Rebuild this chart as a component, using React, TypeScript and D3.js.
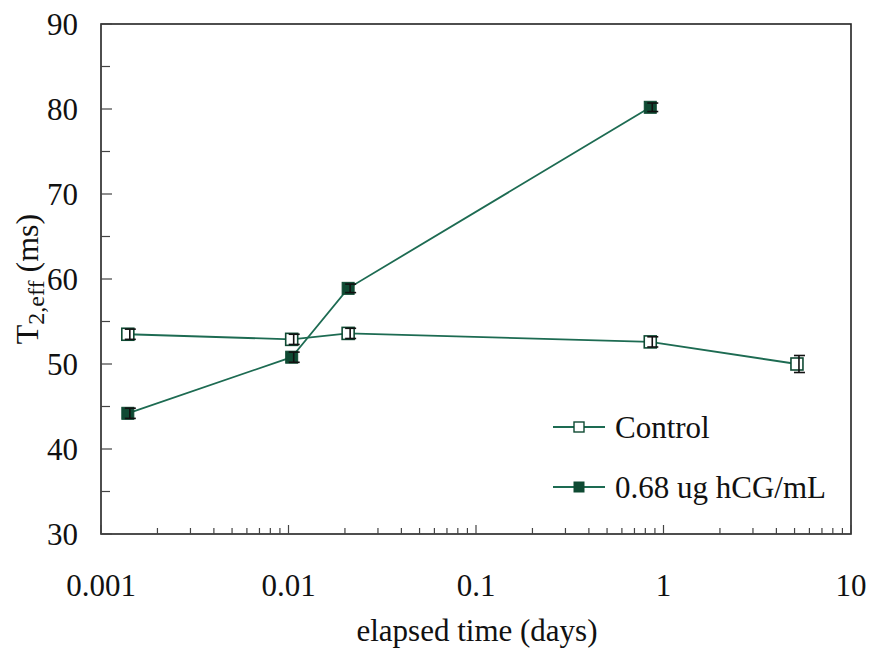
import React from "react";
import * as d3 from "d3";

const controlX = [0.00139, 0.0104, 0.0208, 0.85, 5.15];
const controlY = [53.5, 52.9, 53.6, 52.6, 50.0];
const controlErr = [0.6, 0.6, 0.6, 0.6, 1.0];

const treatedX = [0.00139, 0.0104, 0.0208, 0.85];
const treatedY = [44.2, 50.8, 58.9, 80.2];
const treatedErr = [0.6, 0.6, 0.5, 0.5];

const xTicks = [0.001, 0.01, 0.1, 1, 10];
const xTickLabels = ["0.001", "0.01", "0.1", "1", "10"];
const yTicks = [30, 40, 50, 60, 70, 80, 90];
const seriesNames = ["Control", "0.68 ug hCG/mL"];

const W = 870, H = 650;
const L = 101, R = 851, T = 24, B = 534;
const LINE = "#1d6b52";
const DARK = "#0f4a33";
const FONT = "'Liberation Serif', 'Times New Roman', serif";

export default function App() {
  const x = d3.scaleLog().domain([0.001, 10]).range([L, R]);
  const y = d3.scaleLinear().domain([30, 90]).range([B, T]);

  const minorX: number[] = [];
  for (let e = -3; e < 1; e++) {
    for (let k = 2; k <= 9; k++) minorX.push(k * Math.pow(10, e));
  }
  const minorY = d3.range(35, 90, 10);

  const line = d3.line<[number, number]>().x(d => x(d[0])).y(d => y(d[1]));
  const ctrl = controlX.map((v, i) => [v, controlY[i]] as [number, number]);
  const trt = treatedX.map((v, i) => [v, treatedY[i]] as [number, number]);
  const s = 12;

  const errBar = (xv: number, yv: number, e: number, key: string) => {
    const cx = x(xv) + 2;
    const y1 = y(yv + e), y2 = y(yv - e);
    return (
      <g key={key} stroke="#111" strokeWidth={1.6}>
        <line x1={cx} x2={cx} y1={y1} y2={y2} />
        <line x1={cx - 5} x2={cx + 6} y1={y1} y2={y1} />
        <line x1={cx - 5} x2={cx + 6} y1={y2} y2={y2} />
      </g>
    );
  };

  return (
    <svg width={W} height={H} style={{ display: "block", position: "absolute", left: 0, top: 0, background: "#fff" }}>
      {/* frame */}
      <rect x={L} y={T} width={R - L} height={B - T} fill="none" stroke="#222" strokeWidth={1.6} />
      {/* y ticks */}
      {yTicks.map(t => (
        <g key={"y" + t}>
          <line x1={L} x2={L + 11} y1={y(t)} y2={y(t)} stroke="#444" strokeWidth={1.2} />
          <text x={78} y={y(t) + 11} textAnchor="end" fontFamily={FONT} fontSize={31} fill="#111">{t}</text>
        </g>
      ))}
      {minorY.map(t => (
        <line key={"my" + t} x1={L} x2={L + 9} y1={y(t)} y2={y(t)} stroke="#444" strokeWidth={1.2} />
      ))}
      {/* x ticks */}
      {xTicks.map((t, i) => (
        <g key={"x" + t}>
          <line x1={x(t)} x2={x(t)} y1={B} y2={B - 9} stroke="#444" strokeWidth={1.2} />
          <text x={x(t)} y={596} textAnchor="middle" fontFamily={FONT} fontSize={31} fill="#111">{xTickLabels[i]}</text>
        </g>
      ))}
      {minorX.map((t, i) => (
        <line key={"mx" + i} x1={x(t)} x2={x(t)} y1={B} y2={B - 6} stroke="#444" strokeWidth={1.2} />
      ))}
      {/* axis titles */}
      <text x={477} y={641} textAnchor="middle" fontFamily={FONT} fontSize={31} fill="#111">elapsed time (days)</text>
      <text transform={`translate(38,279) rotate(-90)`} textAnchor="middle" fontFamily={FONT} fontSize={32} fill="#111">
        T<tspan fontSize={24} dy={6}>2,eff</tspan><tspan dy={-6}> (ms)</tspan>
      </text>
      {/* lines */}
      <path d={line(ctrl) || ""} fill="none" stroke={LINE} strokeWidth={1.8} />
      <path d={line(trt) || ""} fill="none" stroke={LINE} strokeWidth={1.8} />
      {/* treated markers */}
      {trt.map((d, i) => (
        <g key={"t" + i}>
          <rect x={x(d[0]) - s / 2} y={y(d[1]) - s / 2} width={s} height={s} fill={DARK} stroke={DARK} strokeWidth={1} />
          {errBar(d[0], d[1], treatedErr[i], "te" + i)}
        </g>
      ))}
      {/* control markers */}
      {ctrl.map((d, i) => (
        <g key={"c" + i}>
          <rect x={x(d[0]) - s / 2} y={y(d[1]) - s / 2} width={s} height={s} fill="#fff" stroke={DARK} strokeWidth={1.6} />
          {errBar(d[0], d[1], controlErr[i], "ce" + i)}
        </g>
      ))}
      {/* legend */}
      <g>
        <line x1={553} x2={605} y1={427} y2={427} stroke={LINE} strokeWidth={1.8} />
        <rect x={574} y={422} width={10} height={10} fill="#fff" stroke={DARK} strokeWidth={1.4} />
        <text x={615} y={438} fontFamily={FONT} fontSize={31} fill="#111">{seriesNames[0]}</text>
        <line x1={553} x2={605} y1={487} y2={487} stroke={LINE} strokeWidth={1.8} />
        <rect x={574} y={482} width={10} height={10} fill={DARK} stroke={DARK} strokeWidth={1} />
        <text x={615} y={498} fontFamily={FONT} fontSize={31} fill="#111">{seriesNames[1]}</text>
      </g>
    </svg>
  );
}
